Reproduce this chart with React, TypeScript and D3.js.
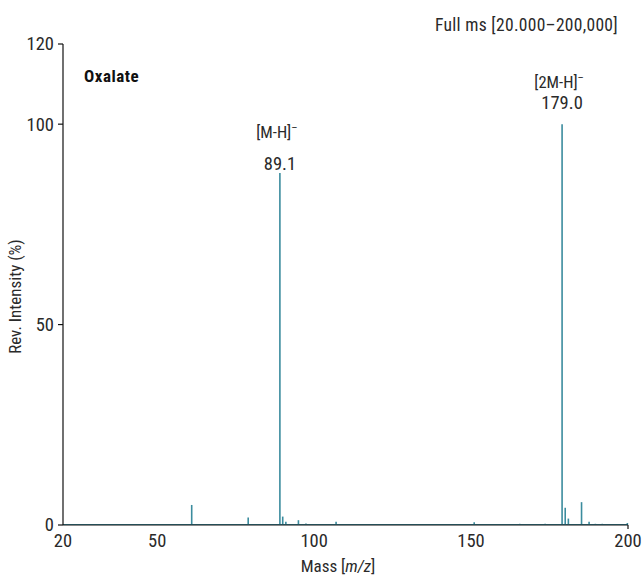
import React from "react";
import * as d3 from "d3";

const masses = [61, 79, 77, 89.1, 90, 91, 95, 97.4, 107, 151, 165.5, 173.6, 179.0, 180, 181, 185.2, 187.6, 189.6, 191.8, 199.8];
const intensities = [5.0, 1.9, 0.2, 87.8, 2.1, 0.8, 1.2, 0.4, 0.8, 0.7, 0.3, 0.3, 100, 4.3, 1.6, 5.7, 0.8, 0.3, 0.3, 0.5];
const xTicks = [20, 50, 100, 150, 200];
const yTicks = [0, 50, 100, 120];
const peakLabels = [
  { mass: 89.1, ion: "[M-H]", value: "89.1" },
  { mass: 179.0, ion: "[2M-H]", value: "179.0" },
];

const FONT = "'Liberation Sans Narrow', 'Roboto Condensed', 'Arial Narrow', 'Liberation Sans', sans-serif";
const TEAL = "#3b8c9e";

export default function App() {
  const W = 644, H = 578;
  const x = d3.scaleLinear().domain([20, 200]).range([63, 628]);
  const y = d3.scaleLinear().domain([0, 120]).range([525, 44]);

  return (
    <svg width={W} height={H} style={{ position: "absolute", left: 0, top: 0 }} fontFamily={FONT}>
      <rect width={W} height={H} fill="#fff" />
      <line x1={x(20)} x2={x(200)} y1={y(0) - 0.5} y2={y(0) - 0.5} stroke={TEAL} strokeWidth={1} />
      {masses.map((m, i) => (
        <line key={i} x1={x(m)} x2={x(m)} y1={y(0)} y2={y(intensities[i])} stroke={TEAL} strokeWidth={1.6} />
      ))}
      <line x1={x(20)} x2={x(200)} y1={y(0)} y2={y(0)} stroke="#111" strokeWidth={1.2} />
      <line x1={x(20)} x2={x(20)} y1={y(0)} y2={y(120)} stroke="#111" strokeWidth={1.2} />
      {yTicks.map((t) => (
        <g key={t}>
          <line x1={x(20) - 5} x2={x(20)} y1={y(t)} y2={y(t)} stroke="#111" strokeWidth={1.2} />
          <text x={x(20) - 9} y={y(t)} dy="0.35em" textAnchor="end" fontSize={18.5} fill="#2a2a2a">{t}</text>
        </g>
      ))}
      {xTicks.map((t) => (
        <g key={t}>
          {t === 200 && <line x1={x(t)} x2={x(t)} y1={y(0)} y2={y(0) + 4} stroke="#111" strokeWidth={1.2} />}
          <text x={x(t)} y={547} textAnchor="middle" fontSize={18.5} fill="#2a2a2a">{t}</text>
        </g>
      ))}
      <text x={338} y={572} textAnchor="middle" fontSize={17} fill="#2a2a2a">
        Mass [<tspan fontStyle="italic">m/z</tspan>]
      </text>
      <text transform={`translate(21,${y(57)}) rotate(-90)`} textAnchor="middle" fontSize={17} fill="#2a2a2a">
        Rev. Intensity (%)
      </text>
      <text x={618} y={31} textAnchor="end" fontSize={17.5} letterSpacing={0.3} fill="#2a2a2a">Full ms [20.000–200,000]</text>
      <text x={84} y={82} fontSize={17} fontWeight="bold" letterSpacing={0.5} fill="#111">Oxalate</text>
      {peakLabels.map((p, i) => (
        <g key={i}>
          <text x={x(p.mass) - 3} y={i === 0 ? 138 : 88} textAnchor="middle" fontSize={16.5} fill="#2a2a2a">
            {p.ion}<tspan dy={-7} fontSize={11}>–</tspan>
          </text>
          <text x={x(p.mass)} y={i === 0 ? 170 : 109} textAnchor="middle" fontSize={18.5} fill="#2a2a2a">{p.value}</text>
        </g>
      ))}
    </svg>
  );
}
